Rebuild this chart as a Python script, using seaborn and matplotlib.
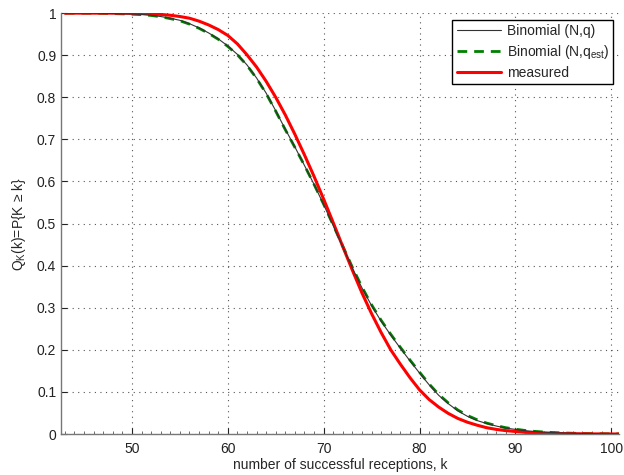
import numpy as np
import pandas as pd
import matplotlib
matplotlib.use("Agg")
import matplotlib.pyplot as plt
import seaborn as sns
from matplotlib.ticker import MultipleLocator

# Data
k_vals = list(range(43, 102))
binom_nq = [1.000, 1.000, 1.000, 1.000, 0.9995, 0.999, 0.9985, 0.998, 0.997, 0.995,
            0.992, 0.988, 0.983, 0.975, 0.965, 0.953, 0.939, 0.922, 0.902, 0.877,
            0.846, 0.810, 0.768, 0.724, 0.682, 0.638, 0.593, 0.545, 0.495, 0.444,
            0.394, 0.347, 0.305, 0.268, 0.235, 0.204, 0.174, 0.145, 0.117, 0.092,
            0.072, 0.055, 0.042, 0.032, 0.025, 0.019, 0.014, 0.011, 0.008, 0.006,
            0.0045, 0.0033, 0.0024, 0.0017, 0.0012, 0.0008, 0.0005, 0.0003, 0.0002]
binom_nqest = [1.000, 1.000, 1.000, 1.000, 0.9995, 0.999, 0.9983, 0.9975, 0.9965, 0.9945,
               0.9915, 0.987, 0.982, 0.974, 0.964, 0.952, 0.938, 0.921, 0.901, 0.876,
               0.845, 0.809, 0.767, 0.723, 0.681, 0.638, 0.593, 0.546, 0.496, 0.446,
               0.396, 0.349, 0.307, 0.270, 0.237, 0.206, 0.176, 0.147, 0.119, 0.094,
               0.074, 0.057, 0.044, 0.034, 0.026, 0.020, 0.015, 0.0115, 0.0085, 0.0063,
               0.0047, 0.0035, 0.0025, 0.0018, 0.0013, 0.0009, 0.0006, 0.0004, 0.0002]
measured = [1.000, 1.000, 1.000, 1.000, 1.000, 1.000, 0.9998, 0.9995, 0.999, 0.998,
            0.997, 0.995, 0.992, 0.988, 0.981, 0.972, 0.961, 0.947, 0.927, 0.901,
            0.872, 0.838, 0.800, 0.758, 0.712, 0.663, 0.612, 0.558, 0.502, 0.445,
            0.389, 0.335, 0.286, 0.241, 0.200, 0.166, 0.134, 0.105, 0.082, 0.064,
            0.049, 0.037, 0.028, 0.021, 0.015, 0.011, 0.008, 0.006, 0.004, 0.003,
            0.002, 0.0015, 0.001, 0.0007, 0.0005, 0.0003, 0.0002, 0.0001, 0.0]

labels = ["Binomial (N,q)", "Binomial (N,q$_{est}$)", "measured"]

sns.set_theme(style="white")
plt.rcParams['font.family'] = ['Liberation Sans', 'DejaVu Sans']
plt.rcParams['mathtext.fontset'] = 'custom'
plt.rcParams['mathtext.rm'] = 'Liberation Sans'
plt.rcParams['mathtext.it'] = 'Liberation Sans'

df = pd.DataFrame({"k": k_vals, "a": binom_nq, "b": binom_nqest, "c": measured})

fig = plt.figure(figsize=(6.24, 4.75), dpi=100)
ax = fig.add_axes([0.0978, 0.0863, 0.894, 0.886])

sns.lineplot(data=df, x="k", y="a", ax=ax, color="#333333", linewidth=0.8, label=labels[0])
sns.lineplot(data=df, x="k", y="b", ax=ax, color="#008000", linewidth=2.0, label=labels[1])
ax.lines[-1].set_dashes([3.5, 2.5])
sns.lineplot(data=df, x="k", y="c", ax=ax, color="#ff0000", linewidth=2.2, label=labels[2])
ax.lines[0].set_zorder(4)

ax.set_xlim(42.6, 100.8)
ax.set_ylim(0, 1)
ax.xaxis.set_minor_locator(MultipleLocator(1))
ax.set_xticks([50, 60, 70, 80, 90, 100])
ax.set_yticks(np.round(np.arange(0, 1.01, 0.1), 1))
ax.set_yticklabels(["0", "0.1", "0.2", "0.3", "0.4", "0.5", "0.6", "0.7", "0.8", "0.9", "1"])

ax.grid(True, which="major", linestyle=(0, (1, 4)), color="#555555", linewidth=0.8)
ax.tick_params(axis="both", which="major", direction="in", length=4, labelsize=10,
               colors="#222222", width=0.8, bottom=True, left=True)
ax.tick_params(axis="x", which="minor", direction="in", length=2, width=0.6,
               bottom=True, color="#555555")
ax.tick_params(axis="x", pad=6)
for s in ["top", "right"]:
    ax.spines[s].set_visible(False)
for s in ["left", "bottom"]:
    ax.spines[s].set_color("#777777")
    ax.spines[s].set_linewidth(1.0)

ax.set_xlabel("number of successful receptions, k", fontsize=10, labelpad=1)
ax.set_ylabel("Q$_K$(k)=P{K ≥ k}", fontsize=10, labelpad=6)

leg = ax.legend(loc="upper right", bbox_to_anchor=(0.995, 0.99), fontsize=10,
                frameon=True, fancybox=False, handlelength=3.2, borderpad=0.3,
                labelspacing=0.35, handletextpad=0.4, borderaxespad=0.2)
leg.get_frame().set_edgecolor("black")
leg.get_frame().set_linewidth(1.0)
leg.get_frame().set_alpha(1)

fig.savefig("out.png", dpi=100)
